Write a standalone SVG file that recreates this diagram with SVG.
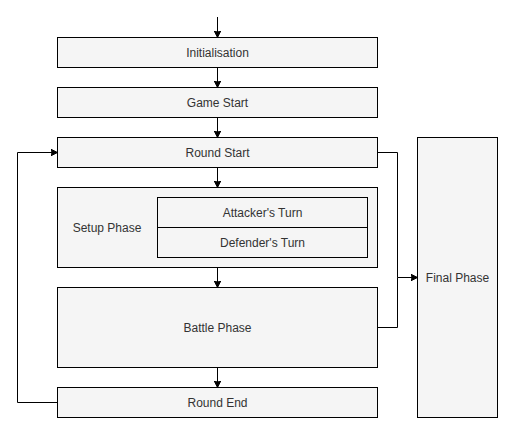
<svg xmlns="http://www.w3.org/2000/svg" width="508" height="428" viewBox="0 0 508 428">
<style>
.box{fill:#f5f5f5;stroke:#000;stroke-width:1}
.lbl{font-family:"Liberation Sans",Arial,sans-serif;font-size:12px;fill:#333;text-anchor:middle;dominant-baseline:central}
.edge{fill:none;stroke:#000;stroke-width:1;marker-end:url(#arr)}
.line{fill:none;stroke:#000;stroke-width:1}
</style>
<defs>
<marker id="arr" viewBox="0 0 8 8" refX="7" refY="3.5" markerWidth="8" markerHeight="8" markerUnits="userSpaceOnUse" orient="auto">
<path d="M0,0 L7,3.5 L0,7 L1.75,3.5 Z" fill="#000" stroke="#000" stroke-width="1"/>
</marker>
</defs>
<rect width="508" height="428" fill="#fff"/>
<g id="connectors">
<path class="edge" d="M217.5,17 V37.5"/>
<path class="edge" d="M217.5,67.5 V87.5"/>
<path class="edge" d="M217.5,117.5 V137.5"/>
<path class="edge" d="M217.5,167.5 V187.5"/>
<path class="edge" d="M217.5,267.5 V287.5"/>
<path class="edge" d="M217.5,367.5 V387.5"/>
<path class="edge" d="M57.5,402.5 H17.5 V152.5 H57.5"/>
<path class="edge" d="M377.5,152.5 H397.5 V277.5 H417.5"/>
<path class="line" d="M377.5,327.5 H397.5 V277.5"/>
</g>
<g id="initialisation">
<rect class="box" x="57.5" y="37.5" width="320" height="30"/>
<text class="lbl" x="217.5" y="52.5">Initialisation</text>
</g>
<g id="game-start">
<rect class="box" x="57.5" y="87.5" width="320" height="30"/>
<text class="lbl" x="217.5" y="102.5">Game Start</text>
</g>
<g id="round-start">
<rect class="box" x="57.5" y="137.5" width="320" height="30"/>
<text class="lbl" x="217.5" y="152.5">Round Start</text>
</g>
<g id="setup-phase">
<rect class="box" x="57.5" y="187.5" width="320" height="80"/>
<text class="lbl" x="107" y="227.5">Setup Phase</text>
</g>
<g id="attackers-turn">
<rect class="box" x="157.5" y="197.5" width="210" height="30"/>
<text class="lbl" x="262.5" y="212.5">Attacker's Turn</text>
</g>
<g id="defenders-turn">
<rect class="box" x="157.5" y="227.5" width="210" height="30"/>
<text class="lbl" x="262.5" y="242.5">Defender's Turn</text>
</g>
<g id="battle-phase">
<rect class="box" x="57.5" y="287.5" width="320" height="80"/>
<text class="lbl" x="217.5" y="327.5">Battle Phase</text>
</g>
<g id="round-end">
<rect class="box" x="57.5" y="387.5" width="320" height="30"/>
<text class="lbl" x="217.5" y="402.5">Round End</text>
</g>
<g id="final-phase">
<rect class="box" x="417.5" y="137.5" width="80" height="280"/>
<text class="lbl" x="457.5" y="277.5">Final Phase</text>
</g>
</svg>
